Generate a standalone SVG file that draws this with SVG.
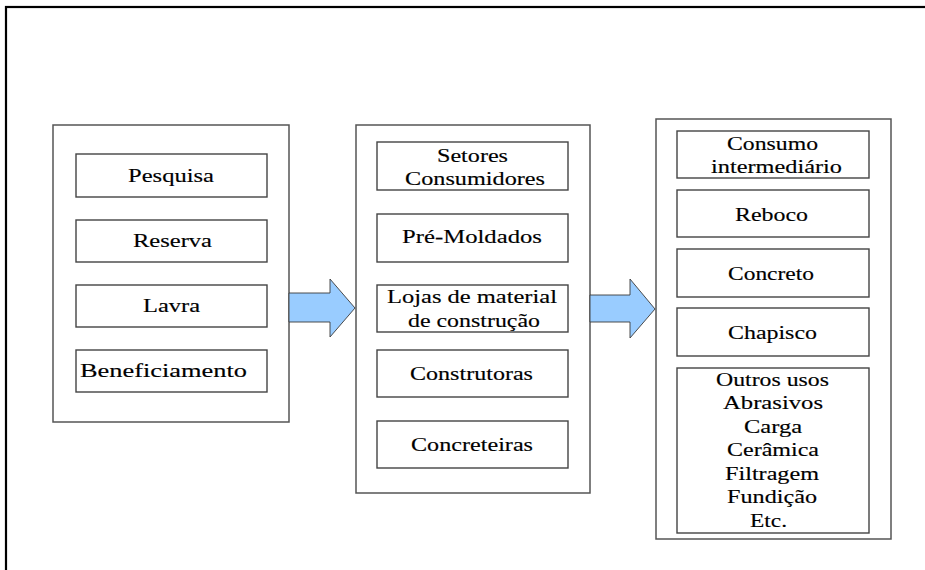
<svg xmlns="http://www.w3.org/2000/svg" width="925" height="570" viewBox="0 0 925 570">
<style>
.frame{fill:none;stroke:#000;stroke-width:2.2}
.panel{fill:#fff;stroke:#555;stroke-width:1.5}
.box{fill:#fff;stroke:#444;stroke-width:1.4}
.arrow{fill:#99CCFF;stroke:#3a3a3a;stroke-width:0.9;stroke-linejoin:miter}
text{font-family:'Liberation Serif','DejaVu Serif','Times New Roman',serif;font-size:19.5px;fill:#000;stroke:#000;stroke-width:0.15}
</style>
<rect width="925" height="570" fill="#fff"/>
<rect class="frame" x="6" y="7" width="940" height="590"/>

<g id="panel-1">
<rect class="panel" x="53" y="125" width="236" height="297"/>
<g id="pesquisa"><rect class="box" x="76" y="154" width="191" height="43"/><text x="128" y="182" textLength="86" lengthAdjust="spacingAndGlyphs">Pesquisa</text></g>
<g id="reserva"><rect class="box" x="76" y="220" width="191" height="42"/><text x="133" y="247" textLength="79" lengthAdjust="spacingAndGlyphs">Reserva</text></g>
<g id="lavra"><rect class="box" x="76" y="285" width="191" height="42"/><text x="143" y="312" textLength="57" lengthAdjust="spacingAndGlyphs">Lavra</text></g>
<g id="beneficiamento"><rect class="box" x="76" y="350" width="191" height="42"/><text x="80" y="377" textLength="167" lengthAdjust="spacingAndGlyphs">Beneficiamento</text></g>
</g>

<g id="panel-2">
<rect class="panel" x="356" y="125" width="234" height="368"/>
<g id="setores"><rect class="box" x="377" y="142" width="191" height="48"/><text x="437" y="162" textLength="71" lengthAdjust="spacingAndGlyphs">Setores</text><text x="405" y="185" textLength="140" lengthAdjust="spacingAndGlyphs">Consumidores</text></g>
<g id="pre-moldados"><rect class="box" x="377" y="214" width="191" height="48"/><text x="402" y="243" textLength="140" lengthAdjust="spacingAndGlyphs">Pré-Moldados</text></g>
<g id="lojas"><rect class="box" x="377" y="285" width="191" height="47"/><text x="387" y="303" textLength="170" lengthAdjust="spacingAndGlyphs">Lojas de material</text><text x="408" y="327" textLength="132" lengthAdjust="spacingAndGlyphs">de construção</text></g>
<g id="construtoras"><rect class="box" x="377" y="350" width="191" height="47"/><text x="410" y="380" textLength="123" lengthAdjust="spacingAndGlyphs">Construtoras</text></g>
<g id="concreteiras"><rect class="box" x="377" y="421" width="191" height="47"/><text x="411" y="451" textLength="122" lengthAdjust="spacingAndGlyphs">Concreteiras</text></g>
</g>

<g id="panel-3">
<rect class="panel" x="656" y="119" width="235" height="420"/>
<g id="consumo"><rect class="box" x="677" y="131" width="192" height="47"/><text x="727" y="150" textLength="91" lengthAdjust="spacingAndGlyphs">Consumo</text><text x="711" y="173" textLength="131" lengthAdjust="spacingAndGlyphs">intermediário</text></g>
<g id="reboco"><rect class="box" x="677" y="190" width="192" height="47"/><text x="735" y="221" textLength="73" lengthAdjust="spacingAndGlyphs">Reboco</text></g>
<g id="concreto"><rect class="box" x="677" y="249" width="192" height="48"/><text x="728" y="280" textLength="86" lengthAdjust="spacingAndGlyphs">Concreto</text></g>
<g id="chapisco"><rect class="box" x="677" y="308" width="192" height="48"/><text x="728" y="339" textLength="89" lengthAdjust="spacingAndGlyphs">Chapisco</text></g>
<g id="outros"><rect class="box" x="677" y="368" width="192" height="165"/>
<text x="716" y="386" textLength="113" lengthAdjust="spacingAndGlyphs">Outros usos</text>
<text x="723" y="409" textLength="100" lengthAdjust="spacingAndGlyphs">Abrasivos</text>
<text x="744" y="433" textLength="58" lengthAdjust="spacingAndGlyphs">Carga</text>
<text x="727" y="456" textLength="92" lengthAdjust="spacingAndGlyphs">Cerâmica</text>
<text x="725" y="480" textLength="94" lengthAdjust="spacingAndGlyphs">Filtragem</text>
<text x="727" y="503" textLength="90" lengthAdjust="spacingAndGlyphs">Fundição</text>
<text x="750" y="527" textLength="37" lengthAdjust="spacingAndGlyphs">Etc.</text>
</g>
</g>

<g id="connectors">
<polygon class="arrow" points="289,293 330,293 330,279 355,308 330,337 330,322 289,322"/>
<polygon class="arrow" points="590,295 630,295 630,279 655,309 630,338 630,322 590,322"/>
</g>
</svg>
